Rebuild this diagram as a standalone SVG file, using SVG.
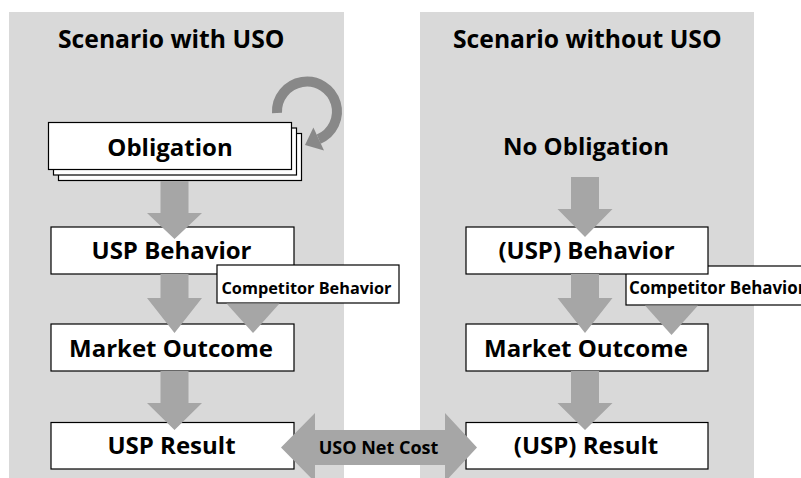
<svg xmlns="http://www.w3.org/2000/svg" width="801" height="478" viewBox="0 0 801 478">
<style>
.panel{fill:#d9d9d9}
.box{fill:#fff;stroke:#000;stroke-width:1.2}
.t{font-family:"Open Sans","Liberation Sans",sans-serif;font-weight:bold;fill:#000}
.big{font-size:24px;text-anchor:middle}
.title{font-size:24.7px}
.small{font-size:16.3px}
.arr{fill:#a6a6a6}
</style>
<rect class="panel" x="9" y="12" width="335" height="466"/>
<rect class="panel" x="420" y="12" width="334" height="466"/>
<text class="t title" x="58" y="48">Scenario with USO</text>
<text class="t title" x="453" y="48">Scenario without USO</text>

<g id="loop">
<path d="M277,113 A30,30 0 1 1 318.7,139.2" fill="none" stroke="#888" stroke-width="10"/>
<polygon points="313.4,127.6 324,150.4 305,145" fill="#888"/>
</g>

<g id="obligation">
<rect class="box" x="58.5" y="133.5" width="243" height="47"/>
<rect class="box" x="53.5" y="128" width="243" height="47"/>
<rect class="box" x="48.5" y="122.5" width="243" height="47"/>
<text class="t big" x="170" y="156">Obligation</text>
</g>
<g id="no-obligation">
<text class="t big" x="586" y="155">No Obligation</text>
</g>

<g id="usp-behavior">
<rect class="box" x="51" y="227" width="243" height="47"/>
<text class="t big" x="171.5" y="259">USP Behavior</text>
</g>
<g id="competitor-left">
<rect class="box" x="217" y="265" width="182" height="38"/>
<text class="t small" x="221.5" y="294">Competitor Behavior</text>
</g>
<g id="market-left">
<rect class="box" x="51" y="324" width="243" height="47"/>
<text class="t big" x="171" y="357">Market Outcome</text>
</g>
<g id="result-left">
<rect class="box" x="51" y="422.5" width="243" height="46.5"/>
<text class="t big" x="171.5" y="454">USP Result</text>
</g>

<g id="competitor-right">
<rect class="box" x="626" y="266" width="182" height="39"/>
<text class="t" x="629" y="294" font-size="16.9">Competitor Behavior</text>
</g>
<g id="usp-behavior-right">
<rect class="box" x="466" y="227" width="242" height="47"/>
<text class="t big" x="586.5" y="259">(USP) Behavior</text>
</g>
<g id="market-right">
<rect class="box" x="466" y="324" width="242" height="47"/>
<text class="t big" x="586" y="357">Market Outcome</text>
</g>
<g id="result-right">
<rect class="box" x="466" y="422.5" width="242" height="46.5"/>
<text class="t big" x="586" y="454">(USP) Result</text>
</g>

<g id="connectors">
<polygon class="arr" points="160.5,181 188.5,181 188.5,213 202,213 174.5,239 147,213 160.5,213"/>
<polygon class="arr" points="160.5,274 188.5,274 188.5,298 202,298 174.5,333 147,298 160.5,298"/>
<polygon class="arr" points="226.5,303.5 279.5,303.5 253,333"/>
<polygon class="arr" points="160.5,371 188.5,371 188.5,403 202,403 174.5,430 147,403 160.5,403"/>

<polygon class="arr" points="571,177 599,177 599,209 612.5,209 585,237 557.5,209 571,209"/>
<polygon class="arr" points="571,274 599,274 599,298 612.5,298 585,333 557.5,298 571,298"/>
<polygon class="arr" points="645,305.5 698,305.5 671.5,335"/>
<polygon class="arr" points="571,371 599,371 599,403 612.5,403 585,430 557.5,403 571,403"/>

<polygon class="arr" points="281,447.5 315,413 315,430 445,430 445,413 477,447.5 445,482 445,465 315,465 315,482"/>
<text class="t" x="378.5" y="454" font-size="18" text-anchor="middle">USO Net Cost</text>
</g>
</svg>
